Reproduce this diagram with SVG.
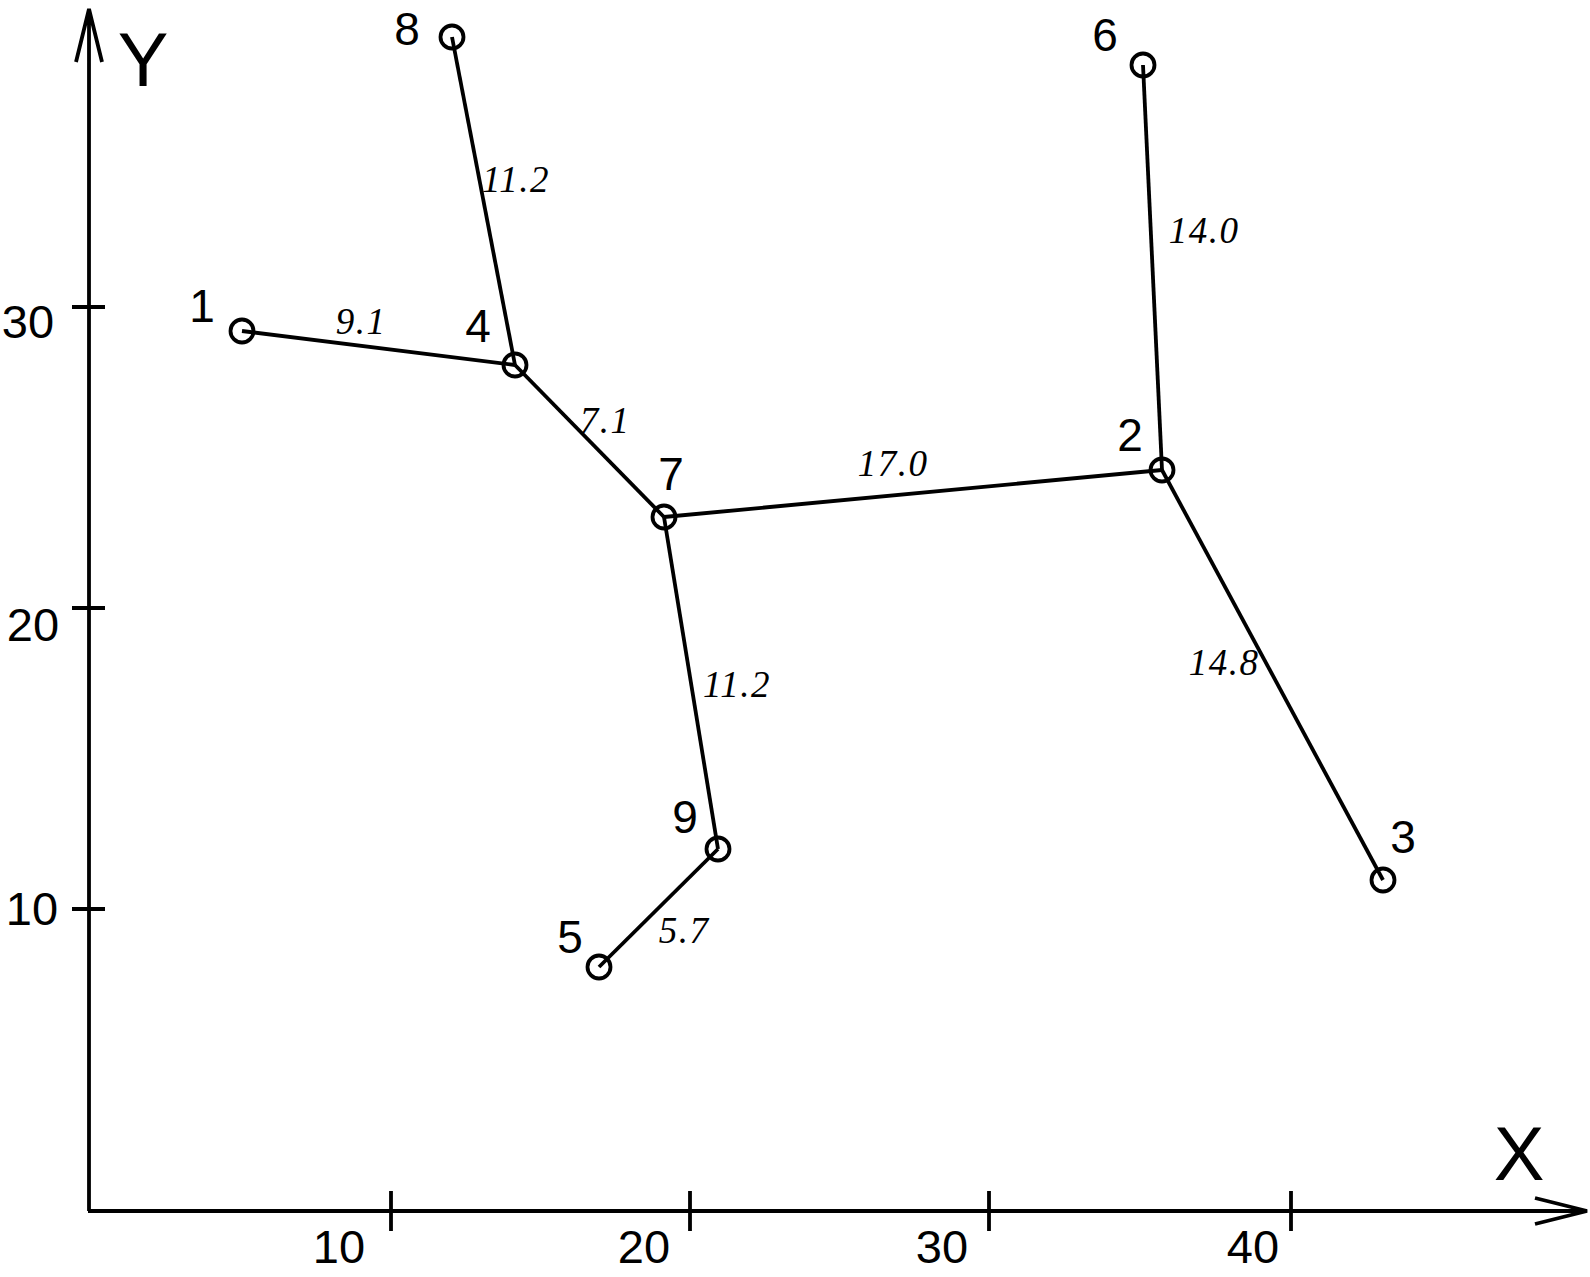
<svg xmlns="http://www.w3.org/2000/svg" width="1590" height="1277" viewBox="0 0 1590 1277">
<style>
.ax{stroke:#000;stroke-width:3.8;fill:none;stroke-linecap:butt}
.e{stroke:#000;stroke-width:3.8;fill:none}
.n{stroke:#000;stroke-width:3.8;fill:none}
.lb{font-family:"Liberation Sans",Arial,sans-serif;font-size:46px;fill:#000;text-anchor:middle}
.tk{font-family:"Liberation Sans",Arial,sans-serif;font-size:47px;fill:#000;text-anchor:middle}
.axl{font-family:"Liberation Sans",Arial,sans-serif;font-size:76px;fill:#000;text-anchor:middle}
.w{font-family:"Liberation Serif","Times New Roman",serif;font-style:italic;font-size:37px;letter-spacing:1.5px;fill:#000;text-anchor:middle}
</style>
<rect width="1590" height="1277" fill="#fff"/>
<g id="axes">
<path class="ax" d="M89,1211 V9 M76,62 L89,9 L102,62"/>
<path class="ax" d="M88,1211 H1587 M1535,1198 L1587,1211 L1535,1224"/>
<path class="ax" d="M72,307 H105 M72,608 H105 M72,909 H105"/>
<path class="ax" d="M391,1191 V1231 M690,1191 V1231 M989,1191 V1231 M1291,1191 V1231"/>
<text class="axl" x="143" y="86">Y</text>
<text class="axl" x="1519" y="1180">X</text>
<text class="tk" x="28" y="338">30</text>
<text class="tk" x="33" y="641">20</text>
<text class="tk" x="32" y="925">10</text>
<text class="tk" x="339" y="1263">10</text>
<text class="tk" x="644" y="1263">20</text>
<text class="tk" x="942" y="1263">30</text>
<text class="tk" x="1253" y="1263">40</text>
</g>
<g id="connectors">
<line class="e" x1="242" y1="331" x2="515" y2="365"/>
<line class="e" x1="452" y1="37" x2="515" y2="365"/>
<line class="e" x1="515" y1="365" x2="664" y2="517"/>
<line class="e" x1="664" y1="517" x2="1162" y2="470"/>
<line class="e" x1="1143" y1="65" x2="1162" y2="470"/>
<line class="e" x1="1162" y1="470" x2="1383" y2="880"/>
<line class="e" x1="664" y1="517" x2="718" y2="849"/>
<line class="e" x1="718" y1="849" x2="599" y2="967"/>
<text class="w" x="361" y="334">9.1</text>
<text class="w" x="516" y="192">11.2</text>
<text class="w" x="605" y="433">7.1</text>
<text class="w" x="893" y="476">17.0</text>
<text class="w" x="1204" y="243">14.0</text>
<text class="w" x="1224" y="675">14.8</text>
<text class="w" x="737" y="697">11.2</text>
<text class="w" x="684" y="943">5.7</text>
</g>
<g id="node1"><circle class="n" cx="242" cy="331" r="11.5"/><text class="lb" x="202" y="322">1</text></g>
<g id="node2"><circle class="n" cx="1162" cy="470" r="11.5"/><text class="lb" x="1130" y="451">2</text></g>
<g id="node3"><circle class="n" cx="1383" cy="880" r="11.5"/><text class="lb" x="1403" y="853">3</text></g>
<g id="node4"><circle class="n" cx="515" cy="365" r="11.5"/><text class="lb" x="478" y="342">4</text></g>
<g id="node5"><circle class="n" cx="599" cy="967" r="11.5"/><text class="lb" x="570" y="953">5</text></g>
<g id="node6"><circle class="n" cx="1143" cy="65" r="11.5"/><text class="lb" x="1105" y="51">6</text></g>
<g id="node7"><circle class="n" cx="664" cy="517" r="11.5"/><text class="lb" x="671" y="490">7</text></g>
<g id="node8"><circle class="n" cx="452" cy="37" r="11.5"/><text class="lb" x="407" y="45">8</text></g>
<g id="node9"><circle class="n" cx="718" cy="849" r="11.5"/><text class="lb" x="685" y="833">9</text></g>
</svg>
